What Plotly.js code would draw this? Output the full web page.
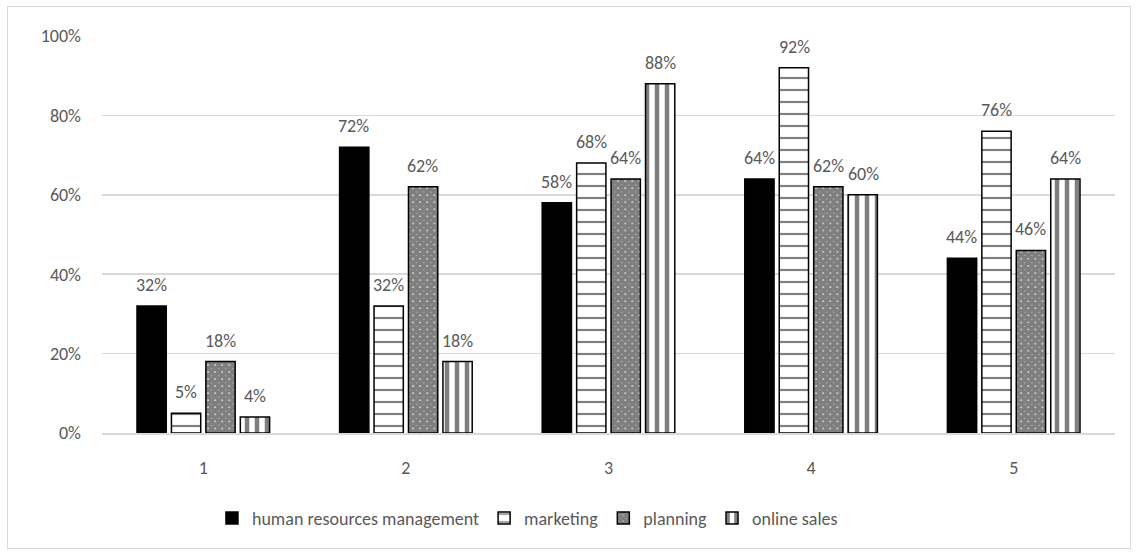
<!DOCTYPE html>
<html>
<head>
<meta charset="utf-8">
<script src="https://cdn.plot.ly/plotly-3.0.1.min.js"></script>
<style>
  html, body { margin: 0; padding: 0; background: #fff; }
  #wrap { position: relative; width: 1137px; height: 552px; }
  #chart { position: absolute; left: 0; top: 0; width: 1137px; height: 552px; }
  #frame { position: absolute; left: 7px; top: 6px; width: 1122px; height: 541px; border: 1px solid #d9d9d9; pointer-events: none; }
</style>
</head>
<body>
<div id="wrap">
  <div id="chart"></div>
  <div id="frame"></div>
</div>
<script>
const categories = ["1", "2", "3", "4", "5"];
const seriesNames = ["human resources management", "marketing", "planning", "online sales"];
const hrm = [0.32, 0.72, 0.58, 0.64, 0.44];
const marketing = [0.05, 0.32, 0.68, 0.92, 0.76];
const planning = [0.18, 0.62, 0.64, 0.62, 0.46];
const onlineSales = [0.04, 0.18, 0.88, 0.60, 0.64];
const yTickVals = [0, 0.2, 0.4, 0.6, 0.8, 1.0];
const yTickText = ["0%", "20%", "40%", "60%", "80%", "100%"];

const FONT = "Calibri, Carlito, Lato, 'Open Sans', sans-serif";
const GRAY = "#595959";
const FS = 18;

function pct(v) { return Math.round(v * 100) + "%"; }

function barTrace(name, vals, pattern) {
  return {
    type: "bar",
    name: name,
    x: categories,
    y: vals,
    marker: Object.assign({
      color: "#ffffff",
      line: { color: "#000000", width: 1.5 }
    }, pattern),
    hoverinfo: "skip"
  };
}

const allSeries = [hrm, marketing, planning, onlineSales];

const traces = [
  barTrace(seriesNames[0], hrm, { color: "#000000" }),
  barTrace(seriesNames[1], marketing, { pattern: { shape: "-", fgcolor: "#000000", bgcolor: "#ffffff", size: 12, solidity: 0.18, fillmode: "overlay" } }),
  barTrace(seriesNames[2], planning, { pattern: { shape: "x", fgcolor: "#000000", bgcolor: "#ffffff", size: 5, solidity: 0.95, fillmode: "overlay" } }),
  barTrace(seriesNames[3], onlineSales, { pattern: { shape: "|", fgcolor: "#000000", bgcolor: "#ffffff", size: 10, solidity: 0.45, fillmode: "overlay" } })
];

// data labels, one per bar, anchored at the bar's value (category index on x)
const slotShift = [-52, -17, 17, 52];
const annotations = [];
allSeries.forEach((vals, s) => {
  vals.forEach((v, i) => {
    annotations.push({
      x: i, y: v, xref: "x", yref: "y",
      text: pct(v), showarrow: false,
      xshift: slotShift[s], yshift: 8,
      yanchor: "bottom", xanchor: "center",
      font: { family: FONT, size: FS, color: GRAY }
    });
  });
});

const layout = {
  width: 1137,
  height: 552,
  margin: { l: 102, r: 22, t: 36, b: 119 },
  paper_bgcolor: "#ffffff",
  plot_bgcolor: "#ffffff",
  barmode: "group",
  bargap: 0.32,
  bargroupgap: 0.15,
  font: { family: FONT, size: FS, color: GRAY },
  showlegend: true,
  annotations: annotations,
  legend: {
    orientation: "h",
    x: 0.42, xanchor: "center",
    y: -0.215, yanchor: "middle",
    font: { family: FONT, size: FS, color: GRAY },
    itemwidth: 30,
    traceorder: "normal"
  },
  xaxis: {
    type: "category",
    range: [-0.5, 4.5],
    showgrid: false,
    showline: true,
    linecolor: "#d9d9d9",
    linewidth: 1.5,
    ticks: "",
    ticklabelstandoff: 18,
    tickfont: { family: FONT, size: FS, color: GRAY },
    zeroline: false
  },
  yaxis: {
    range: [0, 1.0],
    tickvals: yTickVals,
    ticktext: yTickText,
    showgrid: true,
    gridcolor: "#d9d9d9",
    gridwidth: 1.5,
    zeroline: false,
    showline: false,
    ticks: "",
    ticklabelstandoff: 20,
    tickfont: { family: FONT, size: FS, color: GRAY }
  }
};

Plotly.newPlot("chart", traces, layout, { displayModeBar: false, staticPlot: true });
</script>
</body>
</html>
